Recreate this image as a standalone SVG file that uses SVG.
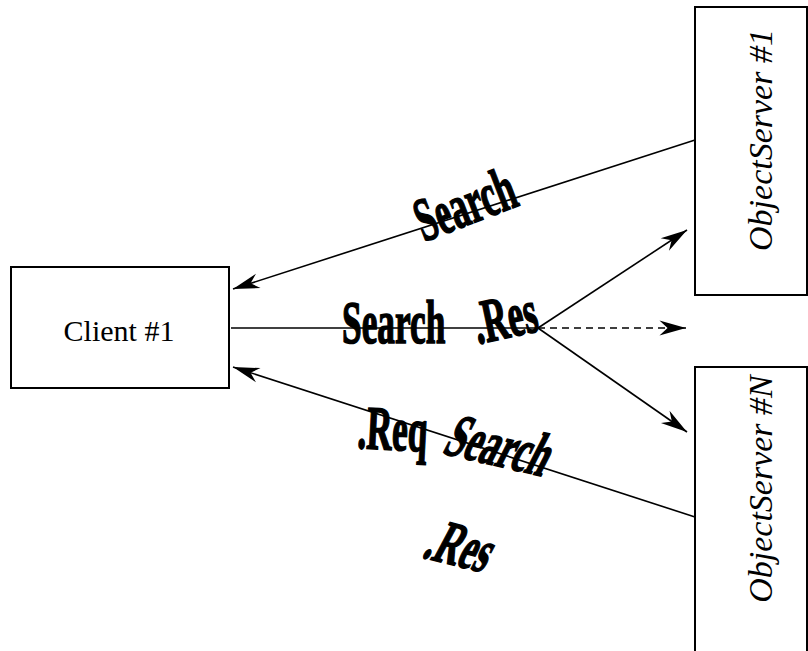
<svg xmlns="http://www.w3.org/2000/svg" width="808" height="651" viewBox="0 0 808 651">
<defs>
<marker id="ah" markerUnits="userSpaceOnUse" orient="auto" markerWidth="30" markerHeight="20" viewBox="-24 -8 26 16" refX="0" refY="0">
<path d="M0,0 L-23,-6.5 L-16,0 L-23,6.5 Z" fill="#000"/>
</marker>
<style>
.box{fill:#fff;stroke:#000;stroke-width:2}
.ln{fill:none;stroke:#000;stroke-width:1.6}
.dash{stroke-dasharray:7,5}
.node{font-family:"Liberation Serif","Times New Roman",serif;fill:#000}
.os{font-size:34px;font-style:italic}
.lbl{font-family:"Liberation Serif","Times New Roman",serif;font-weight:bold;font-size:62px;fill:#000;stroke:#000;stroke-width:1.6}
</style>
</defs>
<rect width="808" height="651" fill="#fff"/>
<g id="client">
<rect class="box" x="11" y="267" width="218" height="121"/>
<text class="node" x="119" y="341" font-size="30" text-anchor="middle">Client #1</text>
</g>
<g id="server1">
<rect class="box" x="695" y="7" width="112" height="288"/>
<text class="node os" transform="translate(772,140) rotate(-90)" text-anchor="middle">ObjectServer #1</text>
</g>
<g id="serverN">
<rect class="box" x="695" y="367" width="112" height="300"/>
<text class="node os" transform="translate(772,489) rotate(-90)" text-anchor="middle">ObjectServer #N</text>
</g>
<g id="connectors">
<line class="ln" x1="695" y1="140" x2="233" y2="289" marker-end="url(#ah)"/>
<line class="ln" x1="695" y1="517" x2="233" y2="367" marker-end="url(#ah)"/>
<line class="ln" x1="231" y1="328" x2="538" y2="328"/>
<line class="ln" x1="538" y1="328" x2="687" y2="230" marker-end="url(#ah)"/>
<line class="ln dash" x1="538" y1="328" x2="686" y2="328" marker-end="url(#ah)"/>
<line class="ln" x1="538" y1="328" x2="687" y2="432" marker-end="url(#ah)"/>
</g>
<g id="labels">
<text class="lbl" transform="translate(424,242) rotate(-21) scale(0.57,1)">Search</text>
<text class="lbl" transform="translate(342,343) scale(0.57,1)">Search</text>
<text class="lbl" transform="translate(478,344) rotate(-12) scale(0.57,1)">.Res</text>
<text class="lbl" transform="translate(357,448) rotate(3) scale(0.57,1)">.Req</text>
<text class="lbl" transform="translate(441,453) rotate(13) skewX(-14) scale(0.57,1)">Search</text>
<text class="lbl" transform="translate(421,557) rotate(14) skewX(-14) scale(0.57,1)">.Res</text>
</g>
</svg>
